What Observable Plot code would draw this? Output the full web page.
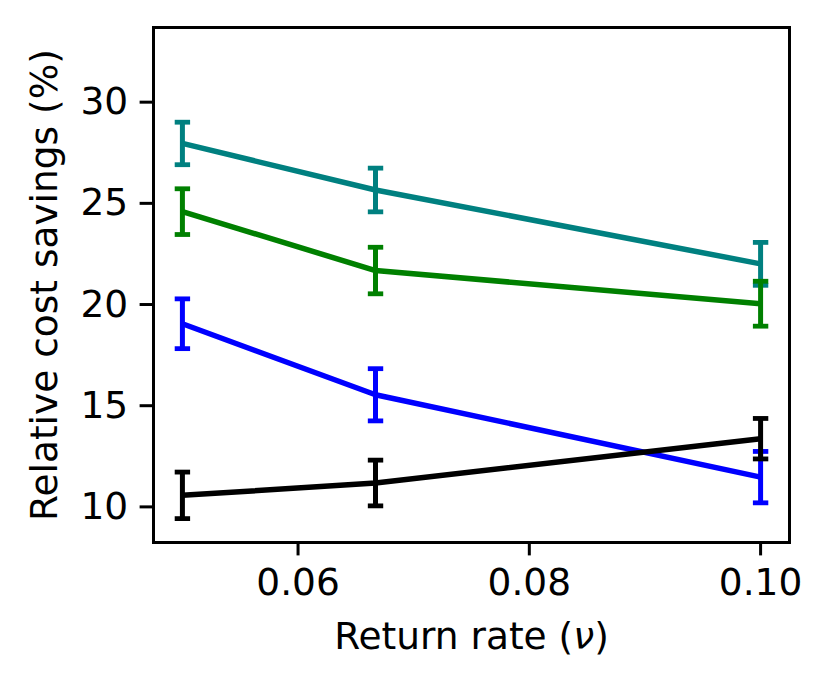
<!DOCTYPE html>
<html>
<head>
<meta charset="utf-8">
<script src="https://cdn.jsdelivr.net/npm/d3@7"></script>
<script src="https://cdn.jsdelivr.net/npm/@observablehq/plot@0.6"></script>
<style>
  html, body { margin: 0; padding: 0; background: #fff; }
</style>
</head>
<body>
<div id="chart"></div>
<script>
// Return rate (x values)
const returnRates = [0.05, 0.0667, 0.10];

// Series (in drawing order)
const seriesNames = ["teal", "green", "blue", "black"];
const seriesColors = ["#008080", "#008000", "#0000ff", "#000000"];

const tealValues  = [27.96, 25.66, 22.01];
const tealErrors  = [1.05, 1.08, 1.06];
const greenValues = [24.59, 21.68, 20.04];
const greenErrors = [1.13, 1.15, 1.11];
const blueValues  = [19.05, 15.54, 11.47];
const blueErrors  = [1.23, 1.29, 1.27];
const blackValues = [10.57, 11.18, 13.37];
const blackErrors = [1.15, 1.13, 1.00];

const xTicks = [0.06, 0.08, 0.10];
const yTicks = [10, 15, 20, 25, 30];

const xLabelMain = "Return rate (";
const xLabelSymbol = "\u03BD";
const xLabelEnd = ")";
const yLabel = "Relative cost savings (%)";

const valueSets = [tealValues, greenValues, blueValues, blackValues];
const errorSets = [tealErrors, greenErrors, blueErrors, blackErrors];

const rows = [];
seriesNames.forEach((s, i) => {
  returnRates.forEach((x, j) => {
    rows.push({series: s, color: seriesColors[i], x, y: valueSets[i][j], e: errorSets[i][j]});
  });
});

const capSymbol = {
  draw(ctx, size) {
    const r = Math.sqrt(size / Math.PI);
    ctx.moveTo(-r, 0);
    ctx.lineTo(r, 0);
  }
};

const marks = [];
seriesNames.forEach((s, i) => {
  const data = rows.filter(d => d.series === s);
  const c = seriesColors[i];
  marks.push(Plot.line(data, {x: "x", y: "y", stroke: c, strokeWidth: 5.5, strokeLinejoin: "round", strokeLinecap: "butt"}));
  marks.push(Plot.ruleX(data, {x: "x", y1: d => d.y - d.e, y2: d => d.y + d.e, stroke: c, strokeWidth: 5}));
  marks.push(Plot.dot(data, {x: "x", y: d => d.y + d.e, symbol: capSymbol, r: 7.7, stroke: c, fill: "none", strokeWidth: 4.8}));
  marks.push(Plot.dot(data, {x: "x", y: d => d.y - d.e, symbol: capSymbol, r: 7.7, stroke: c, fill: "none", strokeWidth: 4.8}));
});

const fullXLabel = xLabelMain + xLabelSymbol + xLabelEnd;

const chart = Plot.plot({
  width: 829,
  height: 686,
  marginLeft: 153,
  marginRight: 40,
  marginTop: 27,
  marginBottom: 144,
  style: {fontFamily: "'DejaVu Sans', sans-serif", fontSize: "37.5px", color: "#000", background: "#fff"},
  x: {domain: [0.0475, 0.1025]},
  y: {domain: [8.24, 33.69]},
  marks: [
    Plot.axisX({ticks: xTicks, tickFormat: d3.format(".2f"), tickSize: 13.4, tickPadding: 12, strokeWidth: 3, label: null, fontSize: 37.5}),
    Plot.axisY({ticks: yTicks, tickFormat: d => String(d), tickSize: 13.4, tickPadding: 12, strokeWidth: 3, label: null, fontSize: 37.5}),
    ...marks,
    Plot.frame({stroke: "#000", strokeWidth: 3}),
    Plot.text([fullXLabel], {frameAnchor: "bottom", dy: 106, lineAnchor: "bottom", textAnchor: "middle", text: d => d, fontSize: 37.5, fill: "#000", className: "xlabel"}),
    Plot.text([yLabel], {frameAnchor: "left", dx: -96.5, rotate: -90, lineAnchor: "bottom", textAnchor: "middle", text: d => d, fontSize: 37.5, fill: "#000"})
  ]
});

// italicise the nu symbol in the x label (keeps it as real text)
chart.querySelectorAll("text").forEach(t => {
  if (t.textContent === fullXLabel) {
    t.textContent = "";
    const a = document.createElementNS("http://www.w3.org/2000/svg", "tspan");
    a.textContent = xLabelMain;
    const b = document.createElementNS("http://www.w3.org/2000/svg", "tspan");
    b.textContent = xLabelSymbol;
    b.setAttribute("font-style", "italic");
    const c = document.createElementNS("http://www.w3.org/2000/svg", "tspan");
    c.textContent = xLabelEnd;
    t.append(a, b, c);
  }
});

document.getElementById("chart").appendChild(chart);
</script>
</body>
</html>
